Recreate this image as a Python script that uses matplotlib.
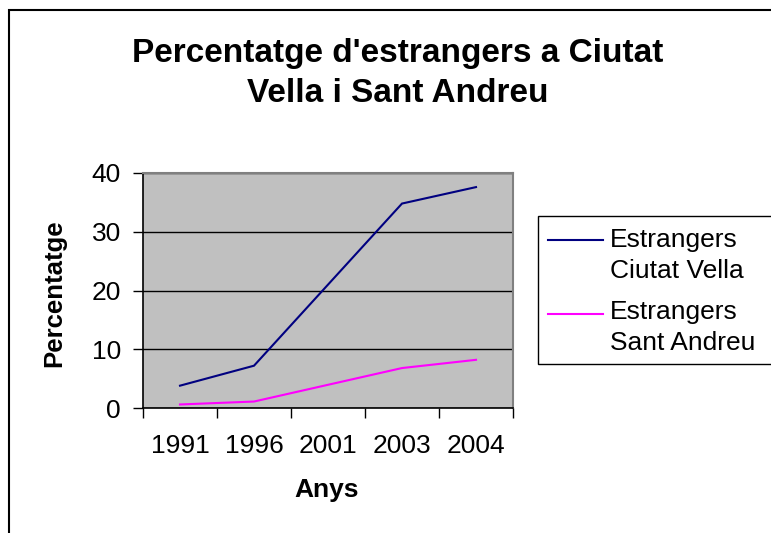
import numpy as np
import matplotlib
matplotlib.use("Agg")
import matplotlib.pyplot as plt
from matplotlib.patches import Rectangle
from matplotlib.lines import Line2D

plt.rcParams['font.family'] = ['Liberation Sans', 'DejaVu Sans']

# ---- data ----
years = ['1991', '1996', '2001', '2003', '2004']
ciutat_vella = [3.8, 7.2, np.nan, 34.8, 37.6]
sant_andreu = [0.6, 1.1, np.nan, 6.8, 8.2]
series_names = ['Estrangers\nCiutat Vella', 'Estrangers\nSant Andreu']
series_colors = ['#000080', '#FF00FF']
y_ticks = [0, 10, 20, 30, 40]
title = "Percentatge d'estrangers a Ciutat\nVella i Sant Andreu"
x_label = 'Anys'
y_label = 'Percentatge'

W, H = 771, 533
fig = plt.figure(figsize=(W / 100, H / 100), dpi=100)
fig.patch.set_facecolor('white')

def fx(px):
    return px / W

def fy(py):
    return 1 - py / H

ax = fig.add_axes([fx(143), fy(408), fx(513) - fx(143), fy(173) - fy(408)])
ax.set_facecolor('#C0C0C0')

x = np.arange(len(years))
for vals, col in zip([ciutat_vella, sant_andreu], series_colors):
    v = np.array(vals, dtype=float)
    m = np.isfinite(v)
    ax.plot(x[m], v[m], color=col, lw=1.5, solid_joinstyle='miter', zorder=3)

ax.set_xlim(-0.5, len(years) - 0.5)
ax.set_ylim(0, 40)
ax.set_yticks(y_ticks)
ax.set_yticklabels([str(t) for t in y_ticks])
ax.yaxis.grid(True, color='black', lw=1)
ax.set_axisbelow(True)

# category boundaries as major ticks, labels at centers
ax.set_xticks(np.arange(-0.5, len(years), 1.0))
ax.set_xticklabels([])
ax.set_xticks(x, minor=True)
ax.set_xticklabels(years, minor=True)
ax.tick_params(axis='x', which='major', length=7, width=1, color='black', direction='out')
ax.tick_params(axis='x', which='minor', length=0, pad=19, labelsize=19)
ax.tick_params(axis='y', length=7, width=1, color='black', direction='out', pad=9, labelsize=19)

for s in ['top', 'right']:
    ax.spines[s].set_color('#808080')
    ax.spines[s].set_linewidth(1.5)
for s in ['left', 'bottom']:
    ax.spines[s].set_color('black')
    ax.spines[s].set_linewidth(1.2)

ax.set_ylabel(y_label, fontsize=18.5, fontweight='bold')
ax.yaxis.set_label_coords((66 - 143) / 370, 0.49)
ax.set_xlabel(x_label, fontsize=19, fontweight='bold')
ax.xaxis.set_label_coords((327 - 143) / 370, (408 - 478) / 235)

# title: va='baseline' anchors the last line's baseline
fig.text(fx(398), fy(101.5), title, ha='center', va='baseline', fontsize=24,
         fontweight='bold', linespacing=1.35)

# outer chart border
fig.add_artist(Rectangle((fx(9), -0.2), 2, fy(10) + 0.2, fill=False,
                         edgecolor='black', lw=1.5, transform=fig.transFigure))

# legend (Excel style: handle aligned with first line)
fig.add_artist(Rectangle((fx(538), fy(364)), 2, fy(216) - fy(364), fill=True,
                         facecolor='white', edgecolor='black', lw=1,
                         transform=fig.transFigure))
entry_y = [239.5, 313.5]
last_baseline = [278, 350]
for name, col, ey, lb in zip(series_names, series_colors, entry_y, last_baseline):
    fig.add_artist(Line2D([fx(548), fx(603)], [fy(ey), fy(ey)], color=col, lw=1.5,
                          transform=fig.transFigure))
    fig.text(fx(610), fy(lb), name, ha='left', va='baseline', fontsize=19,
             linespacing=1.36)

fig.savefig('out.png', dpi=100)
